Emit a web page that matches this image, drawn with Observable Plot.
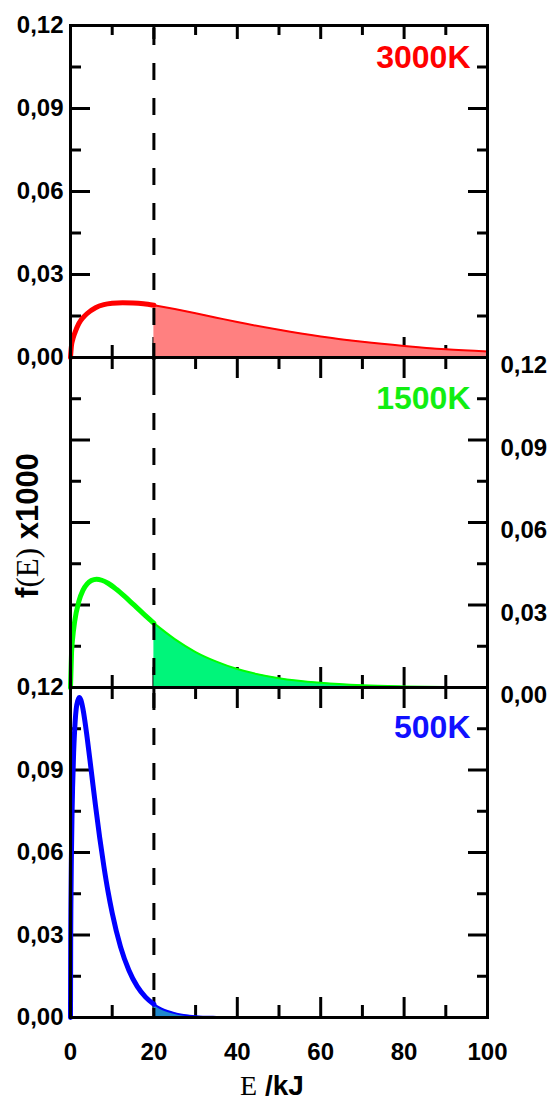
<!DOCTYPE html>
<html><head><meta charset="utf-8">
<script src="https://cdn.jsdelivr.net/npm/d3@7"></script>
<script src="https://cdn.jsdelivr.net/npm/@observablehq/plot@0.6"></script>
<style>
html,body{margin:0;padding:0;background:#fff;}
#chart{position:relative;width:550px;height:1099px;}
#chart svg{position:absolute;left:0;overflow:visible;}
</style></head><body><div id="chart"></div>
<script>
// ---- data ----
const E_3000 = [0, 0.25, 0.5, 1, 2, 3, 4, 6, 8, 10, 12.5, 15, 17.5, 20, 25, 30, 35, 40, 50, 60, 70, 80, 90, 100];
const f_3000 = [0, 0.0045, 0.0063, 0.0087, 0.0123, 0.0144, 0.0159, 0.0180, 0.0191, 0.0196, 0.0198, 0.0197, 0.0194, 0.0189, 0.0175, 0.0160, 0.0144, 0.0128, 0.0100, 0.0076, 0.0057, 0.0042, 0.0030, 0.0022];

const E_1500 = [0, 0.25, 0.5, 1, 2, 3, 4, 5, 6.25, 7.5, 9, 11, 13, 15, 17.5, 20, 25, 30, 35, 40, 50, 60, 70, 80, 90, 100];
const f_1500 = [0, 0.0127, 0.0177, 0.0240, 0.0313, 0.0354, 0.0377, 0.0389, 0.0394, 0.0390, 0.0379, 0.0357, 0.0331, 0.0303, 0.0268, 0.0234, 0.0176, 0.0129, 0.0094, 0.0067, 0.0034, 0.0017, 0.0008, 0.0004, 0.0002, 0.0001];

const E_500 = [0, 0.05, 0.1, 0.2, 0.35, 0.5, 0.75, 1, 1.5, 2.1, 2.5, 3, 4, 5, 6, 7, 8, 9, 10, 12, 14, 16, 18, 20, 22, 25, 30, 35, 40, 50, 60, 80, 100];
const f_500 = [0, 0.0294, 0.0411, 0.0567, 0.0724, 0.0835, 0.0963, 0.1047, 0.1137, 0.1164, 0.1154, 0.1121, 0.1017, 0.0894, 0.0770, 0.0654, 0.0550, 0.0458, 0.0380, 0.0257, 0.0172, 0.0113, 0.0074, 0.0048, 0.0031, 0.0016, 0.0005, 0.0002, 0.0001, 0, 0, 0, 0];

const temperatures = ["3000K", "1500K", "500K"];
const cutoffE = 20;
const yMajor = [0, 0.03, 0.06, 0.09, 0.12];
const yMinor = [0.015, 0.045, 0.075, 0.105];
const xMajor = [0, 20, 40, 60, 80, 100];
const xMinor = [10, 30, 50, 70, 90];
const yTitle = "f(E) x1000";
const xTitle = "E /kJ";

// ---- styling / layout ----
const series = [
  {label: temperatures[0], E: E_3000, f: f_3000, line: "#ff0000", fill: "#ff8080", text: "#ff0000"},
  {label: temperatures[1], E: E_1500, f: f_1500, line: "#00ff00", fill: "#00f57a", text: "#11ee11"},
  {label: temperatures[2], E: E_500,  f: f_500,  line: "#0000ff", fill: "#1f88cc", text: "#1010ff"}
];
const layout = [
  {top: 0,   height: 357, mt: 25, mb: 0,  left: true,  right: false, xLab: false, topMaj: 13, topMin: 9,  labDy: 42, dash: 32},
  {top: 357, height: 330, mt: 0,  mb: 0,  left: false, right: true,  xLab: false, topMaj: 20, topMin: 11, labDy: 51, dash: 14},
  {top: 687, height: 412, mt: 0,  mb: 82, left: true,  right: false, xLab: true,  topMaj: 20, topMin: 11, labDy: 50, dash: 29}
];
const fmtY = d => d.toFixed(2).replace(".", ",");
const SANS = "Liberation Sans, Arial, Helvetica, sans-serif";
const SERIF = "Liberation Serif, Times New Roman, serif";

const chart = document.getElementById("chart");

series.forEach((s, i) => {
  const L = layout[i];
  const rows = s.E.map((e, j) => ({E: e, f: s.f[j]}));
  const before = rows.filter(d => d.E <= cutoffE);
  const after = rows.filter(d => d.E >= cutoffE);
  const tickOpt = {stroke: "black", strokeWidth: 3, fill: "none", label: null};
  const marks = [
    Plot.axisY(yMajor, {anchor: "left", tickSize: -20, ...tickOpt}),
    Plot.axisY(yMinor, {anchor: "left", tickSize: -11, ...tickOpt}),
    Plot.axisY(yMajor, {anchor: "right", tickSize: -20, ...tickOpt}),
    Plot.axisY(yMinor, {anchor: "right", tickSize: -11, ...tickOpt}),
    Plot.axisX(xMajor, {anchor: "bottom", tickSize: -20, ...tickOpt}),
    Plot.axisX(xMinor, {anchor: "bottom", tickSize: -12, ...tickOpt}),
    Plot.axisX(xMajor, {anchor: "top", tickSize: -L.topMaj, ...tickOpt}),
    Plot.axisX(xMinor, {anchor: "top", tickSize: -L.topMin, ...tickOpt}),
    Plot.areaY(after, {x: "E", y: "f", fill: s.fill, curve: "monotone-x"}),
    Plot.line(after, {x: "E", y: "f", stroke: s.line, strokeWidth: 2, curve: "monotone-x"}),
    Plot.line(before, {x: "E", y: "f", stroke: s.line, strokeWidth: 5, curve: "monotone-x"}),
    Plot.ruleX([cutoffE], {stroke: "black", strokeWidth: 3, strokeDasharray: "17,18", strokeDashoffset: L.dash}),
    Plot.frame({stroke: "black", strokeWidth: 3}),
    Plot.text([s.label], {text: d => d, frameAnchor: "top-right", textAnchor: "end", lineAnchor: "bottom",
      dx: -17, dy: L.labDy, fill: s.text, fontSize: 32, fontWeight: "bold"})
  ];
  if (L.left) marks.push(Plot.axisY(yMajor, {anchor: "left", tickSize: 0, tickPadding: 7, tickFormat: fmtY,
      fontSize: 24, fontWeight: "bold", fill: "black", label: null}));
  if (L.right) marks.push(Plot.axisY(yMajor, {anchor: "right", tickSize: 0, tickPadding: 13, tickFormat: fmtY,
      dy: 8, fontSize: 24, fontWeight: "bold", fill: "black", label: null}));
  if (L.xLab) {
    marks.push(Plot.axisX(xMajor, {anchor: "bottom", tickSize: 0, tickPadding: 25, tickFormat: d => String(d),
      fontSize: 24, fontWeight: "bold", fill: "black", label: null}));
    marks.push(Plot.text([xTitle], {text: d => d, frameAnchor: "bottom", textAnchor: "middle", lineAnchor: "bottom",
      dx: -7, dy: 77, fontSize: 28, fontWeight: "bold", fill: "black"}));
  }
  if (i === 1) {
    marks.push(Plot.text([yTitle], {text: d => d, frameAnchor: "left", rotate: -90, textAnchor: "middle", lineAnchor: "bottom",
      dx: -33, dy: 3, fontSize: 31, fontWeight: "bold", fill: "black"}));
  }
  const svg = Plot.plot({
    width: 550, height: L.height,
    marginLeft: 70, marginRight: 63, marginTop: L.mt, marginBottom: L.mb,
    x: {domain: [0, 100]},
    y: {domain: [0, 0.12]},
    style: {fontFamily: SANS, background: "none", overflow: "visible", color: "black"},
    marks
  });
  svg.style.top = L.top + "px";
  chart.appendChild(svg);
});

// mixed-font axis titles: serif "E" as in the original
function splitTitle(str, parts) {
  chart.querySelectorAll("text").forEach(t => {
    if (t.textContent === str) {
      t.textContent = "";
      parts.forEach(([txt, serif]) => {
        const ts = document.createElementNS("http://www.w3.org/2000/svg", "tspan");
        ts.textContent = txt;
        if (serif) { ts.setAttribute("font-family", SERIF); ts.setAttribute("font-weight", "normal"); }
        t.appendChild(ts);
      });
    }
  });
}
splitTitle(yTitle, [["f", false], ["(E)", true], [" x1000", false]]);
splitTitle(xTitle, [["E", true], [" /kJ", false]]);
</script></body></html>
